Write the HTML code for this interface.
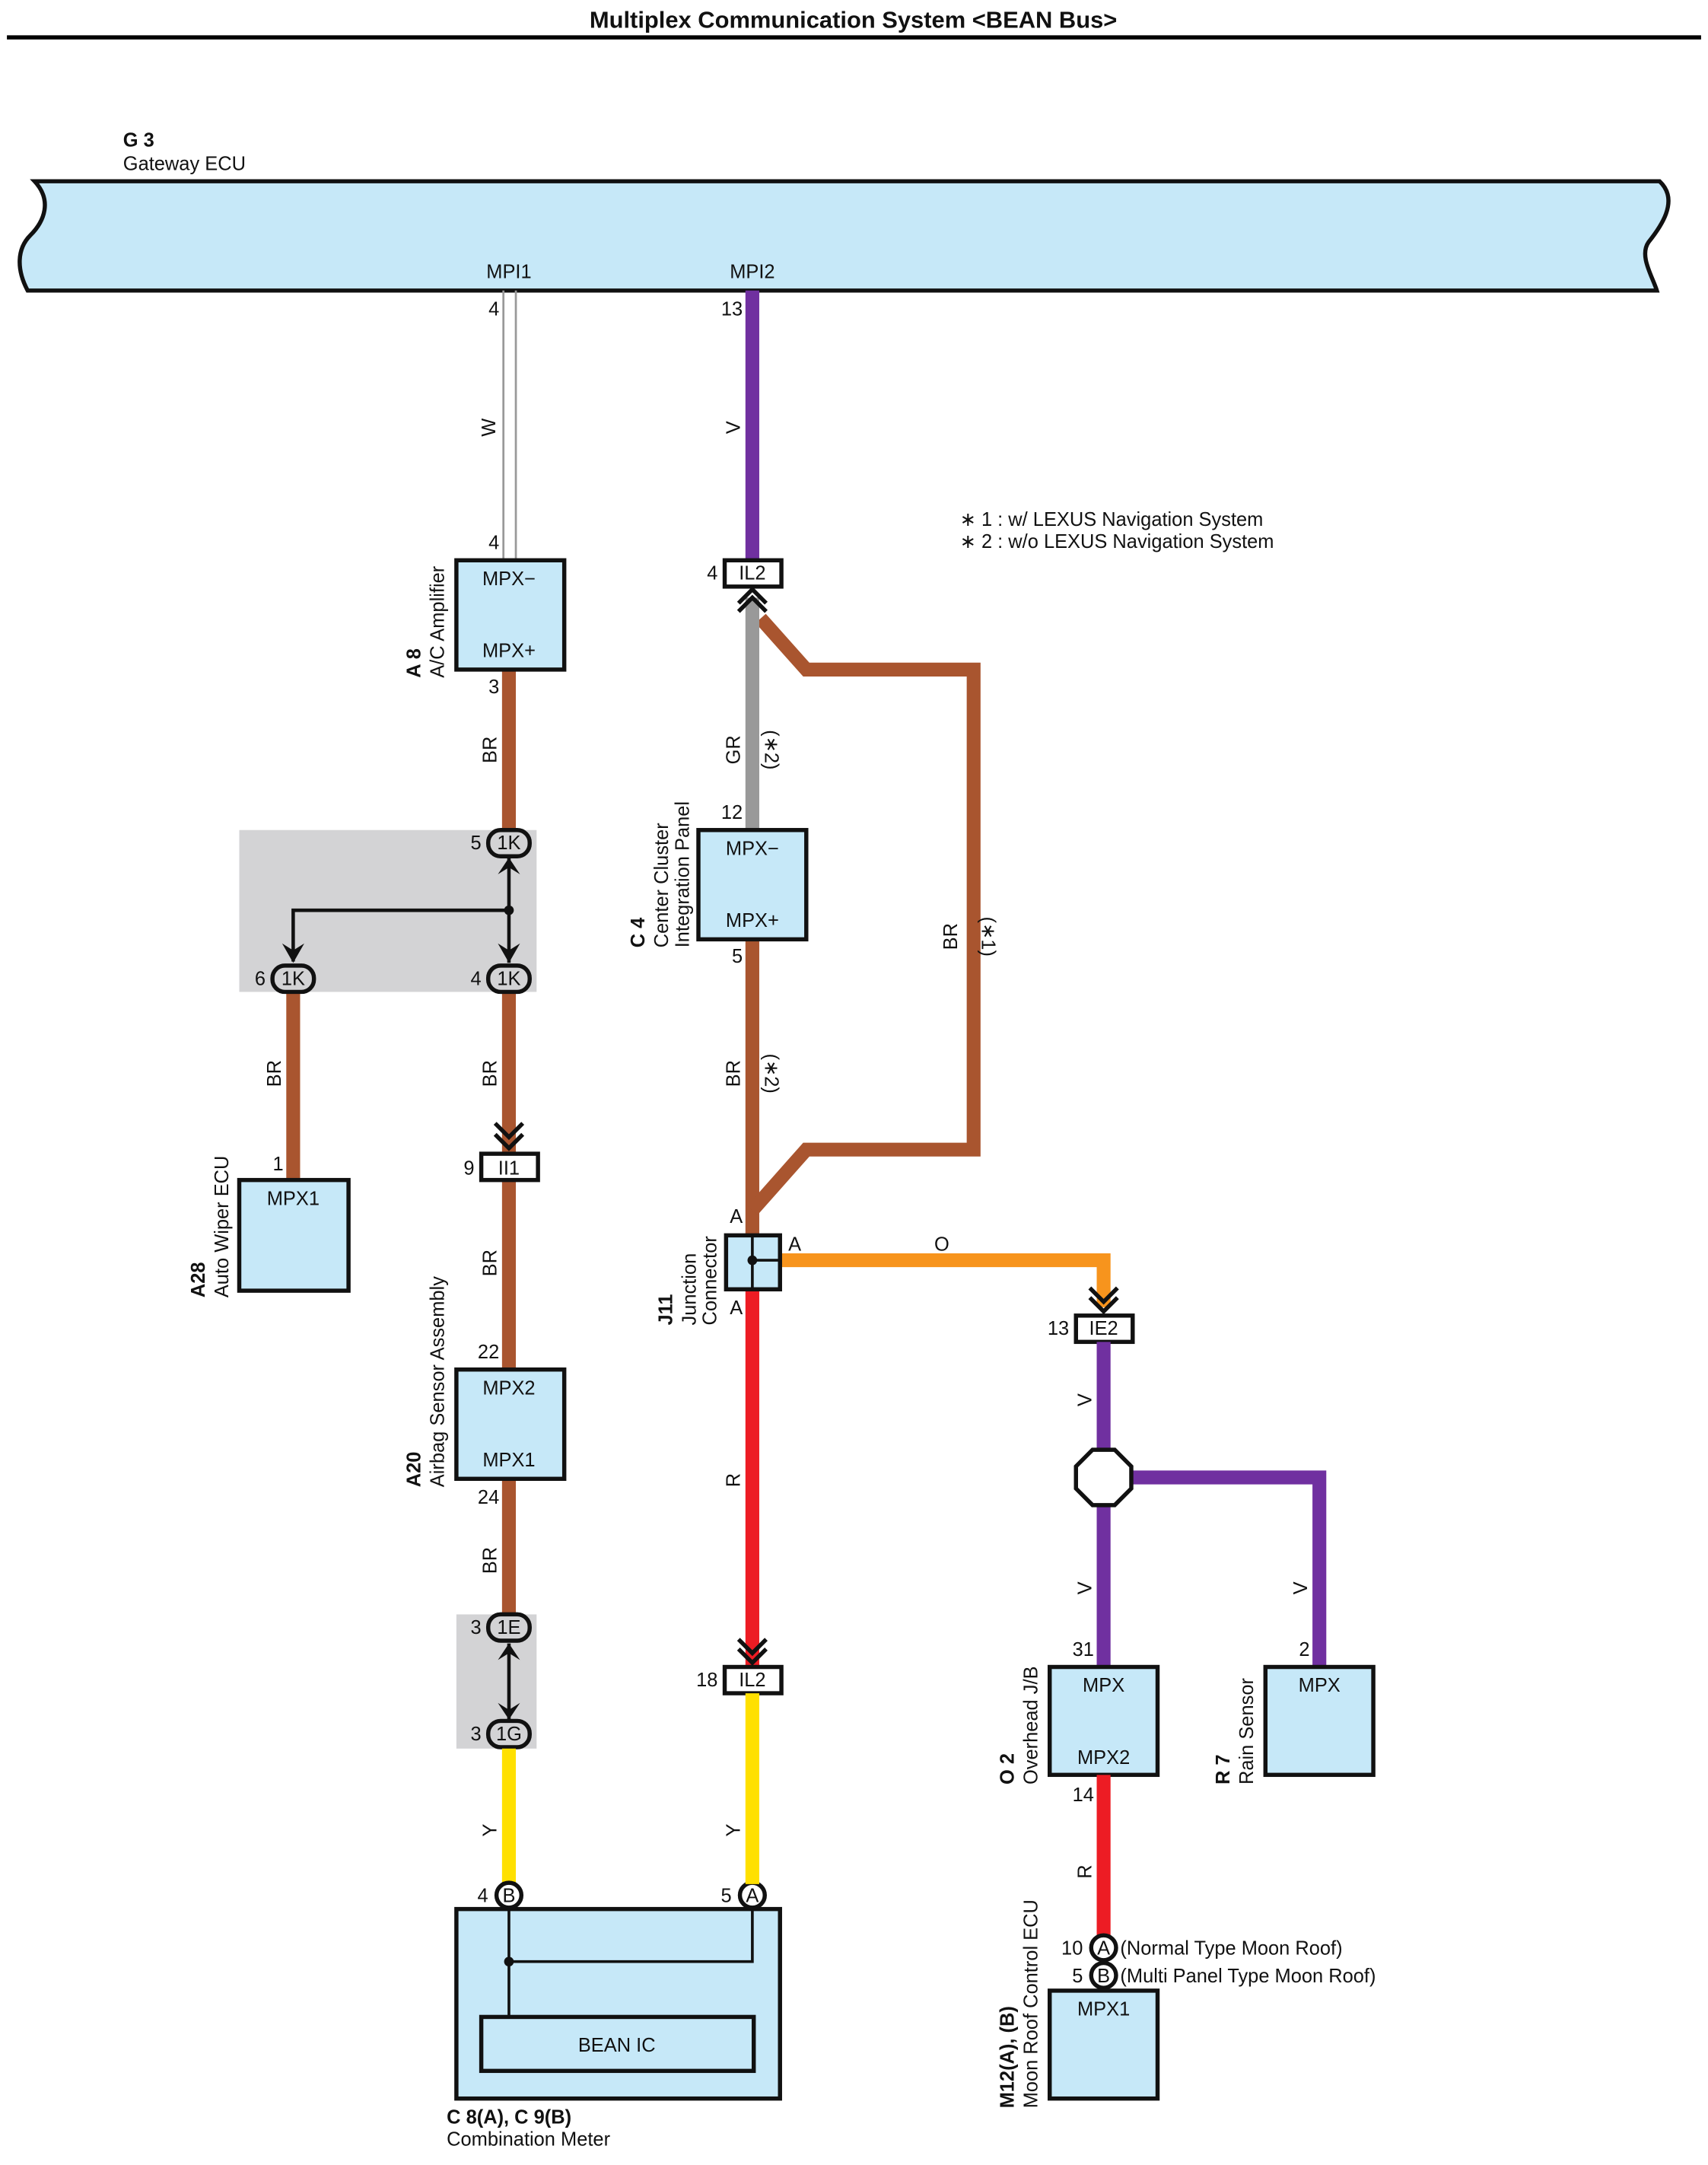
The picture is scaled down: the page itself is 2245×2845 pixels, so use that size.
<!DOCTYPE html>
<html><head><meta charset="utf-8"><style>
html,body{margin:0;padding:0;background:#fff}
svg{display:block}
text{font-family:"Liberation Sans",sans-serif;font-size:14px;fill:#111}
.b{font-weight:bold}
.m{text-anchor:middle}
.e{text-anchor:end}
</style></head><body>
<svg width="2245" height="2845" viewBox="0 0 1235 1565" xmlns="http://www.w3.org/2000/svg">
<text x="617" y="20" class="m b" style="font-size:17px">Multiplex Communication System &lt;BEAN Bus&gt;</text>
<line x1="5" y1="27" x2="1230" y2="27" stroke="#000" stroke-width="3"/>
<text x="89" y="106" class="b">G 3</text>
<text x="89" y="123">Gateway ECU</text>
<path d="M25 131 H1200 C1215 145 1200 165 1192 175 C1185 185 1195 200 1198 210 H20 C12 195 12 180 22 170 C32 160 38 145 25 131 Z" fill="#c6e8f8" stroke="#111" stroke-width="3"/>
<text x="368" y="201" class="m">MPI1</text>
<text x="544" y="201" class="m">MPI2</text>
<!-- W wire -->
<line x1="364" y1="210" x2="364" y2="405" stroke="#999" stroke-width="1.5"/>
<line x1="373" y1="210" x2="373" y2="405" stroke="#999" stroke-width="1.5"/>
<text x="361" y="228" class="e">4</text>
<text x="361" y="397" class="e">4</text>
<text transform="translate(358,309) rotate(-90)" class="m">W</text>
<!-- V top -->
<line x1="544" y1="210" x2="544" y2="405" stroke="#7030a0" stroke-width="10"/>
<text x="537" y="228" class="e">13</text>
<text transform="translate(535,309) rotate(-90)" class="m">V</text>
<text x="694" y="380">∗ 1 : w/ LEXUS Navigation System</text>
<text x="694" y="396">∗ 2 : w/o LEXUS Navigation System</text>
<!-- brown wires -->
<g stroke="#a9552f" stroke-width="10" fill="none">
<line x1="368" y1="484" x2="368" y2="1168"/>
<line x1="212" y1="707" x2="212" y2="853"/>
<line x1="544" y1="679" x2="544" y2="893"/>
<polyline points="550,447 583,484 704,484 704,831 583,831 544,875"/>
</g>
<line x1="544" y1="432" x2="544" y2="600" stroke="#999" stroke-width="10"/>
<!-- A8 -->
<rect x="330" y="405" width="78" height="79" fill="#c6e8f8" stroke="#111" stroke-width="3"/>
<text x="368" y="423" class="m">MPX−</text><text x="368" y="475" class="m">MPX+</text>
<text x="361" y="501" class="e">3</text>
<text transform="translate(304,490) rotate(-90)" class="b">A 8</text>
<text transform="translate(321,490) rotate(-90)">A/C Amplifier</text>
<text transform="translate(359,542) rotate(-90)" class="m">BR</text>
<!-- gray box 1K -->
<rect x="173" y="600" width="215" height="117" fill="#d3d3d5"/>
<polyline points="212,695 212,658 368,658" fill="none" stroke="#111" stroke-width="2.5"/>
<line x1="368" y1="620" x2="368" y2="696" stroke="#111" stroke-width="2.5"/>
<circle cx="368" cy="658" r="3.5" fill="#111"/>
<g fill="#111">
<path d="M360 632 L368 620 L376 632 L368 627 Z"/>
<path d="M360 682 L368 696 L376 682 L368 687 Z"/>
<path d="M204 682 L212 696 L220 682 L212 687 Z"/>
</g>
<g fill="#d3d3d5" stroke="#111" stroke-width="3">
<rect x="353" y="600" width="30" height="19" rx="9"/>
<rect x="353" y="698" width="30" height="19" rx="9"/>
<rect x="197" y="698" width="30" height="19" rx="9"/>
<rect x="353" y="1167" width="30" height="19" rx="9"/>
<rect x="353" y="1244" width="30" height="19" rx="9"/>
</g>
<text x="368" y="614" class="m">1K</text><text x="368" y="712" class="m">1K</text><text x="212" y="712" class="m">1K</text>
<text x="348" y="614" class="e">5</text><text x="348" y="712" class="e">4</text><text x="192" y="712" class="e">6</text>
<text transform="translate(203,776) rotate(-90)" class="m">BR</text>
<text transform="translate(359,776) rotate(-90)" class="m">BR</text>
<!-- A28 -->
<rect x="173" y="853" width="79" height="80" fill="#c6e8f8" stroke="#111" stroke-width="3"/>
<text x="212" y="871" class="m">MPX1</text>
<text x="205" y="846" class="e">1</text>
<text transform="translate(148,938) rotate(-90)" class="b">A28</text>
<text transform="translate(165,938) rotate(-90)">Auto Wiper ECU</text>
<!-- II1 -->
<path d="M358 812 L368 822 L378 812 M358 820 L368 830 L378 820" fill="none" stroke="#111" stroke-width="3"/>
<rect x="348" y="834" width="41" height="19" fill="#fff" stroke="#111" stroke-width="3"/>
<text x="368" y="849" class="m">II1</text>
<text x="343" y="849" class="e">9</text>
<text transform="translate(359,913) rotate(-90)" class="m">BR</text>
<!-- A20 -->
<text x="361" y="982" class="e">22</text>
<rect x="330" y="990" width="78" height="79" fill="#c6e8f8" stroke="#111" stroke-width="3"/>
<text x="368" y="1008" class="m">MPX2</text><text x="368" y="1060" class="m">MPX1</text>
<text x="361" y="1087" class="e">24</text>
<text transform="translate(304,1075) rotate(-90)" class="b">A20</text>
<text transform="translate(321,1075) rotate(-90)">Airbag Sensor Assembly</text>
<text transform="translate(359,1128) rotate(-90)" class="m">BR</text>
<!-- gray 1E/1G -->
<rect x="330" y="1167" width="58" height="97" fill="#d3d3d5"/>
<line x1="368" y1="1188" x2="368" y2="1243" stroke="#111" stroke-width="2.5"/>
<path d="M360 1200 L368 1188 L376 1200 L368 1195 Z M360 1231 L368 1243 L376 1231 L368 1236 Z" fill="#111"/>
<g fill="#d3d3d5" stroke="#111" stroke-width="3">
<rect x="353" y="1167" width="30" height="19" rx="9"/>
<rect x="353" y="1244" width="30" height="19" rx="9"/>
</g>
<text x="368" y="1181" class="m">1E</text><text x="368" y="1258" class="m">1G</text>
<text x="348" y="1181" class="e">3</text><text x="348" y="1258" class="e">3</text>
<line x1="368" y1="1264" x2="368" y2="1362" stroke="#ffe000" stroke-width="10"/>
<text transform="translate(359,1323) rotate(-90)" class="m">Y</text>
<!-- Combination meter -->
<rect x="330" y="1380" width="234" height="137" fill="#c6e8f8" stroke="#111" stroke-width="3"/>
<polyline points="368,1380 368,1458" fill="none" stroke="#111" stroke-width="2"/>
<polyline points="368,1418 544,1418 544,1380" fill="none" stroke="#111" stroke-width="2"/>
<circle cx="368" cy="1418" r="3.5" fill="#111"/>
<rect x="348" y="1458" width="197" height="39" fill="#c6e8f8" stroke="#111" stroke-width="3"/>
<text x="446" y="1483" class="m">BEAN IC</text>
<circle cx="368" cy="1370" r="9" fill="#fff" stroke="#111" stroke-width="3"/>
<circle cx="544" cy="1370" r="9" fill="#fff" stroke="#111" stroke-width="3"/>
<text x="368" y="1375" class="m">B</text><text x="544" y="1375" class="m">A</text>
<text x="353" y="1375" class="e">4</text><text x="529" y="1375" class="e">5</text>
<text x="323" y="1535" class="b">C 8(A), C 9(B)</text>
<text x="323" y="1551">Combination Meter</text>
<!-- IL2 top -->
<path d="M534 442 L544 432 L554 442 M534 436 L544 426 L554 436" fill="none" stroke="#111" stroke-width="3"/>
<rect x="524" y="405" width="41" height="19" fill="#fff" stroke="#111" stroke-width="3"/>
<text x="544" y="419" class="m">IL2</text>
<text x="519" y="419" class="e">4</text>
<text transform="translate(535,542) rotate(-90)" class="m">GR</text>
<text transform="translate(553,542) rotate(90)" class="m">(∗2)</text>
<text x="537" y="592" class="e">12</text>
<!-- C4 -->
<rect x="505" y="600" width="78" height="79" fill="#c6e8f8" stroke="#111" stroke-width="3"/>
<text x="544" y="618" class="m">MPX−</text><text x="544" y="670" class="m">MPX+</text>
<text x="537" y="696" class="e">5</text>
<text transform="translate(466,685) rotate(-90)" class="b">C 4</text>
<text transform="translate(483,685) rotate(-90)">Center Cluster</text>
<text transform="translate(498,685) rotate(-90)">Integration Panel</text>
<text transform="translate(535,776) rotate(-90)" class="m">BR</text>
<text transform="translate(553,776) rotate(90)" class="m">(∗2)</text>
<text transform="translate(692,677) rotate(-90)" class="m">BR</text>
<text transform="translate(710,677) rotate(90)" class="m">(∗1)</text>
<!-- J11 -->
<text x="537" y="884" class="e">A</text>
<line x1="564" y1="911" x2="798" y2="911" stroke="#f7941d" stroke-width="10"/>
<line x1="798" y1="906" x2="798" y2="945" stroke="#f7941d" stroke-width="10"/>
<line x1="544" y1="932" x2="544" y2="1205" stroke="#ed1c24" stroke-width="10"/>
<rect x="525" y="893" width="39" height="39" fill="#c6e8f8" stroke="#111" stroke-width="3"/>
<line x1="544" y1="893" x2="544" y2="932" stroke="#111" stroke-width="2"/>
<line x1="544" y1="911" x2="564" y2="911" stroke="#111" stroke-width="2"/>
<circle cx="544" cy="911" r="3.5" fill="#111"/>
<text x="570" y="904">A</text>
<text x="681" y="904" class="m">O</text>
<text x="537" y="950" class="e">A</text>
<text transform="translate(486,958) rotate(-90)" class="b">J11</text>
<text transform="translate(503,958) rotate(-90)">Junction</text>
<text transform="translate(518,958) rotate(-90)">Connector</text>
<text transform="translate(535,1070) rotate(-90)" class="m">R</text>
<!-- IL2 bottom -->
<path d="M534 1185 L544 1195 L554 1185 M534 1192 L544 1202 L554 1192" fill="none" stroke="#111" stroke-width="3"/>
<rect x="524" y="1205" width="41" height="19" fill="#fff" stroke="#111" stroke-width="3"/>
<text x="544" y="1219" class="m">IL2</text>
<text x="519" y="1219" class="e">18</text>
<line x1="544" y1="1224" x2="544" y2="1362" stroke="#ffe000" stroke-width="10"/>
<text transform="translate(535,1323) rotate(-90)" class="m">Y</text>
<!-- IE2 -->
<path d="M788 931 L798 941 L808 931 M788 938 L798 948 L808 938" fill="none" stroke="#111" stroke-width="3"/>
<rect x="778" y="951" width="41" height="19" fill="#fff" stroke="#111" stroke-width="3"/>
<text x="798" y="965" class="m">IE2</text>
<text x="773" y="965" class="e">13</text>
<g stroke="#7030a0" stroke-width="10" fill="none">
<line x1="798" y1="970" x2="798" y2="1205"/>
<polyline points="815,1068 954,1068 954,1205"/>
</g>
<text transform="translate(789,1012) rotate(-90)" class="m">V</text>
<text transform="translate(789,1148) rotate(-90)" class="m">V</text>
<text transform="translate(945,1148) rotate(-90)" class="m">V</text>
<polygon points="790,1048 806,1048 818,1060 818,1076 806,1088 790,1088 778,1076 778,1060" fill="#fff" stroke="#111" stroke-width="3"/>
<!-- O2 -->
<text x="791" y="1197" class="e">31</text>
<rect x="759" y="1205" width="78" height="78" fill="#c6e8f8" stroke="#111" stroke-width="3"/>
<text x="798" y="1223" class="m">MPX</text><text x="798" y="1275" class="m">MPX2</text>
<text x="791" y="1302" class="e">14</text>
<text transform="translate(733,1290) rotate(-90)" class="b">O 2</text>
<text transform="translate(750,1290) rotate(-90)">Overhead J/B</text>
<!-- R7 -->
<text x="947" y="1197" class="e">2</text>
<rect x="915" y="1205" width="78" height="78" fill="#c6e8f8" stroke="#111" stroke-width="3"/>
<text x="954" y="1223" class="m">MPX</text>
<text transform="translate(889,1290) rotate(-90)" class="b">R 7</text>
<text transform="translate(906,1290) rotate(-90)">Rain Sensor</text>
<!-- red to M12 -->
<line x1="798" y1="1283" x2="798" y2="1400" stroke="#ed1c24" stroke-width="10"/>
<text transform="translate(789,1353) rotate(-90)" class="m">R</text>
<circle cx="798" cy="1408" r="9" fill="#fff" stroke="#111" stroke-width="3"/>
<circle cx="798" cy="1428" r="9" fill="#fff" stroke="#111" stroke-width="3"/>
<text x="798" y="1413" class="m">A</text><text x="798" y="1433" class="m">B</text>
<text x="783" y="1413" class="e">10</text><text x="783" y="1433" class="e">5</text>
<text x="810" y="1413">(Normal Type Moon Roof)</text>
<text x="810" y="1433">(Multi Panel Type Moon Roof)</text>
<rect x="759" y="1439" width="78" height="78" fill="#c6e8f8" stroke="#111" stroke-width="3"/>
<text x="798" y="1457" class="m">MPX1</text>
<text transform="translate(733,1524) rotate(-90)" class="b">M12(A), (B)</text>
<text transform="translate(750,1524) rotate(-90)">Moon Roof Control ECU</text>
</svg>
</body></html>
